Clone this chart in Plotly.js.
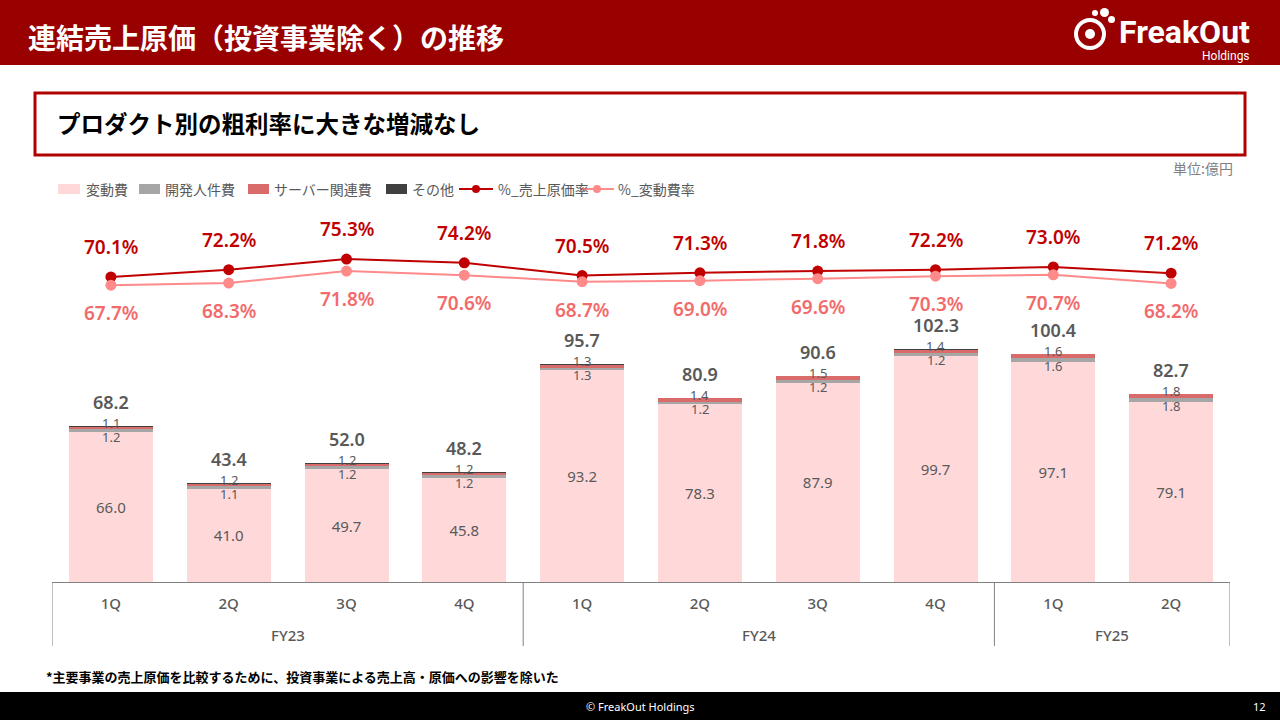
<!DOCTYPE html>
<html>
<head>
<meta charset="utf-8">
<script src="https://cdn.plot.ly/plotly-3.0.1.min.js"></script>
<style>html,body{margin:0;padding:0;background:#fff;}#chart{width:1280px;height:720px;}</style>
</head>
<body>
<div id="chart"></div>
<script>
// ---- data ----
const quarters = ['1Q','2Q','3Q','4Q','1Q','2Q','3Q','4Q','1Q','2Q'];
const fiscalYears = ['FY23','FY23','FY23','FY23','FY24','FY24','FY24','FY24','FY25','FY25'];
const variableCost = [66.0,41.0,49.7,45.8,93.2,78.3,87.9,99.7,97.1,79.1];
const devPersonnel = [1.2,1.1,1.2,1.2,1.3,1.2,1.2,1.2,1.6,1.8];
const serverCost   = [1.1,1.2,1.2,1.2,1.3,1.4,1.5,1.4,1.6,1.8];
const otherCost    = [0.3,0.3,0.3,0.3,0.3,0.3,0.3,0.3,0.3,0.3];
const totalCost    = [68.2,43.4,52.0,48.2,95.7,80.9,90.6,102.3,100.4,82.7];
const costRatio     = [70.1,72.2,75.3,74.2,70.5,71.3,71.8,72.2,73.0,71.2];
const variableRatio = [67.7,68.3,71.8,70.6,68.7,69.0,69.6,70.3,70.7,68.2];
const seriesNames = ['変動費','開発人件費','サーバー関連費','その他','%_売上原価率','%_変動費率'];
const seriesColors = ['#FFD9DA','#A6A6A6','#D96B6B','#404040','#C00000','#FF8A8A'];

// ---- layout helpers ----
const L = 52, R = 1230, T = 215, B = 582;
const W = R - L, H = B - T;
const px = x => (x - L) / W;
const py = y => (B - y) / H;
const JP = '"Noto Sans CJK JP", "Noto Sans", sans-serif';
const NUM = '"Noto Sans", "Liberation Sans", sans-serif';
const GREY = '#595959';

const xi = quarters.map((_, i) => i);

const traces = [
  {type:'bar', name:seriesNames[0], x:xi, y:variableCost, marker:{color:seriesColors[0]},
   texttemplate:'%{y:.1f}', textposition:'inside', insidetextanchor:'middle', textangle:0,
   textfont:{family:NUM, size:15, color:GREY}, hoverinfo:'skip'},
  {type:'bar', name:seriesNames[1], x:xi, y:devPersonnel, marker:{color:seriesColors[1]}, hoverinfo:'skip'},
  {type:'bar', name:seriesNames[2], x:xi, y:serverCost, marker:{color:seriesColors[2]}, hoverinfo:'skip'},
  {type:'bar', name:seriesNames[3], x:xi, y:otherCost, marker:{color:seriesColors[3]}, hoverinfo:'skip'},
  {type:'scatter', mode:'lines+markers', name:seriesNames[4], x:xi, y:costRatio, yaxis:'y2',
   line:{color:seriesColors[4], width:2}, marker:{color:seriesColors[4], size:11}, hoverinfo:'skip'},
  {type:'scatter', mode:'lines+markers', name:seriesNames[5], x:xi, y:variableRatio, yaxis:'y2',
   line:{color:seriesColors[5], width:2}, marker:{color:seriesColors[5], size:11}, hoverinfo:'skip'}
];

const annotations = [];
const shapes = [];
for (let i = 0; i < quarters.length; i++) {
  const stackTop = variableCost[i] + devPersonnel[i] + serverCost[i] + otherCost[i];
  annotations.push({xref:'x', yref:'y', x:i, y:stackTop, text:totalCost[i].toFixed(1), showarrow:false,
    yanchor:'middle', yshift:24, font:{family:NUM, size:18, color:GREY, weight:600}});
  annotations.push({xref:'x', yref:'y', x:i, y:variableCost[i] + devPersonnel[i]/2, text:devPersonnel[i].toFixed(1),
    showarrow:false, yanchor:'middle', yshift:-6, font:{family:NUM, size:13, color:GREY}});
  annotations.push({xref:'x', yref:'y', x:i, y:variableCost[i] + devPersonnel[i] + serverCost[i]/2, text:serverCost[i].toFixed(1),
    showarrow:false, yanchor:'middle', yshift:5, font:{family:NUM, size:13, color:GREY}});
  annotations.push({xref:'x', yref:'y2', x:i, y:costRatio[i], text:costRatio[i].toFixed(1) + '%', showarrow:false,
    yanchor:'middle', yshift:30, font:{family:NUM, size:19, color:'#C00000', weight:600}});
  annotations.push({xref:'x', yref:'y2', x:i, y:variableRatio[i], text:variableRatio[i].toFixed(1) + '%', showarrow:false,
    yanchor:'middle', yshift:-28, font:{family:NUM, size:19, color:'#F26B6B', weight:600}});
}

// fiscal-year groups: labels and dividers
const groups = [];
fiscalYears.forEach((fy, i) => {
  if (!groups.length || groups[groups.length-1].name !== fy) groups.push({name:fy, start:i, end:i});
  else groups[groups.length-1].end = i;
});
groups.forEach((g, k) => {
  annotations.push({xref:'x', yref:'paper', x:(g.start + g.end)/2, y:py(635), text:g.name, showarrow:false,
    yanchor:'middle', font:{family:NUM, size:15, color:GREY, weight:500}});
  shapes.push({type:'line', xref:'x', yref:'paper', x0:g.start-0.5, x1:g.start-0.5, y0:py(582), y1:py(646),
    line:{color:'#808080', width:1}});
  if (k === groups.length-1)
    shapes.push({type:'line', xref:'x', yref:'paper', x0:g.end+0.5, x1:g.end+0.5, y0:py(582), y1:py(646),
      line:{color:'#808080', width:1}});
});

// custom legend
const legendItems = [
  {kind:'bar', x0:58, x1:80, tx:84},
  {kind:'bar', x0:139, x1:160, tx:163},
  {kind:'bar', x0:248, x1:269, tx:272},
  {kind:'bar', x0:386, x1:407, tx:410},
  {kind:'line', x0:459, x1:493, tx:496},
  {kind:'line', x0:580, x1:614, tx:616}
];
legendItems.forEach((it, k) => {
  const c = seriesColors[k];
  if (it.kind === 'bar') {
    shapes.push({type:'rect', xref:'paper', yref:'paper', x0:px(it.x0), x1:px(it.x1), y0:py(194), y1:py(184),
      fillcolor:c, line:{width:0}});
  } else {
    shapes.push({type:'line', xref:'paper', yref:'paper', x0:px(it.x0), x1:px(it.x1), y0:py(189), y1:py(189),
      line:{color:c, width:2}});
    const m = (it.x0 + it.x1)/2;
    shapes.push({type:'circle', xref:'paper', yref:'paper', x0:px(m-4), x1:px(m+4), y0:py(185), y1:py(193),
      fillcolor:c, line:{width:0}});
  }
  annotations.push({xref:'paper', yref:'paper', x:px(it.tx), y:py(189), xanchor:'left', yanchor:'middle',
    showarrow:false, text:seriesNames[k], font:{family:JP, size:14, color:GREY}});
});

// page decorations
annotations.push(
  {xref:'paper', yref:'paper', x:px(26), y:py(37), xanchor:'left', yanchor:'middle', showarrow:false,
   text:'連結売上原価（投資事業除く）の推移', font:{family:JP, size:28, color:'#FFFFFF', weight:700}},
  {xref:'paper', yref:'paper', x:px(1252), y:py(32), xanchor:'right', yanchor:'middle', showarrow:false,
   text:'FreakOut', font:{family:'Roboto, "Noto Sans", sans-serif', size:32, color:'#FFFFFF', weight:700}},
  {xref:'paper', yref:'paper', x:px(1252), y:py(56), xanchor:'right', yanchor:'middle', showarrow:false,
   text:'Holdings', font:{family:'Roboto, "Noto Sans", sans-serif', size:12, color:'#FFFFFF'}},
  {xref:'paper', yref:'paper', x:px(55), y:py(123), xanchor:'left', yanchor:'middle', showarrow:false,
   text:'プロダクト別の粗利率に大きな増減なし', font:{family:JP, size:23.5, color:'#000000', weight:700}},
  {xref:'paper', yref:'paper', x:px(1235), y:py(168), xanchor:'right', yanchor:'middle', showarrow:false,
   text:'単位:億円', font:{family:JP, size:14, color:'#808080'}},
  {xref:'paper', yref:'paper', x:px(44), y:py(676), xanchor:'left', yanchor:'middle', showarrow:false,
   text:'*主要事業の売上原価を比較するために、投資事業による売上高・原価への影響を除いた', font:{family:JP, size:13, color:'#000000', weight:700}},
  {xref:'paper', yref:'paper', x:px(640), y:py(706), xanchor:'center', yanchor:'middle', showarrow:false,
   text:'© FreakOut Holdings', font:{family:NUM, size:11, color:'#FFFFFF'}},
  {xref:'paper', yref:'paper', x:px(1268), y:py(706), xanchor:'right', yanchor:'middle', showarrow:false,
   text:'12', font:{family:NUM, size:11, color:'#FFFFFF'}}
);

shapes.push(
  {type:'rect', xref:'paper', yref:'paper', x0:px(0), x1:px(1280), y0:py(0), y1:py(65), fillcolor:'#990000', line:{width:0}},
  {type:'rect', xref:'paper', yref:'paper', x0:px(0), x1:px(1280), y0:py(692), y1:py(720), fillcolor:'#000000', line:{width:0}},
  {type:'rect', xref:'paper', yref:'paper', x0:px(35), x1:px(1245), y0:py(93), y1:py(155), fillcolor:'rgba(0,0,0,0)', line:{color:'#B00000', width:3}},
  // logo mark
  {type:'circle', xref:'paper', yref:'paper', x0:px(1076), x1:px(1104), y0:py(20), y1:py(48), fillcolor:'rgba(0,0,0,0)', line:{color:'#FFFFFF', width:4}},
  {type:'circle', xref:'paper', yref:'paper', x0:px(1085), x1:px(1095), y0:py(29), y1:py(39), fillcolor:'#FFFFFF', line:{width:0}},
  {type:'circle', xref:'paper', yref:'paper', x0:px(1100), x1:px(1109), y0:py(8), y1:py(17), fillcolor:'#FFFFFF', line:{width:0}},
  {type:'circle', xref:'paper', yref:'paper', x0:px(1108), x1:px(1115), y0:py(16), y1:py(23), fillcolor:'#FFFFFF', line:{width:0}},
  {type:'circle', xref:'paper', yref:'paper', x0:px(1092), x1:px(1098), y0:py(10), y1:py(16), fillcolor:'#FFFFFF', line:{width:0}}
);

const layout = {
  width:1280, height:720,
  margin:{l:L, r:1280-R, t:T, b:720-B},
  paper_bgcolor:'#FFFFFF', plot_bgcolor:'#FFFFFF',
  barmode:'stack', bargap:0.287,
  showlegend:false,
  xaxis:{type:'linear', range:[-0.5, quarters.length-0.5], tickmode:'array', tickvals:xi, ticktext:quarters,
         showline:true, linecolor:'#808080', linewidth:1, ticks:'', ticklabelstandoff:8,
         tickfont:{family:NUM, size:15, color:GREY, weight:500}, showgrid:false, zeroline:false, fixedrange:true},
  yaxis:{range:[0,161.7], visible:false, fixedrange:true},
  yaxis2:{range:[-18.6,88.1], overlaying:'y', visible:false, fixedrange:true},
  annotations:annotations,
  shapes:shapes,
  font:{family:JP}
};

Plotly.newPlot('chart', traces, layout, {displayModeBar:false, staticPlot:true});
</script>
</body>
</html>
